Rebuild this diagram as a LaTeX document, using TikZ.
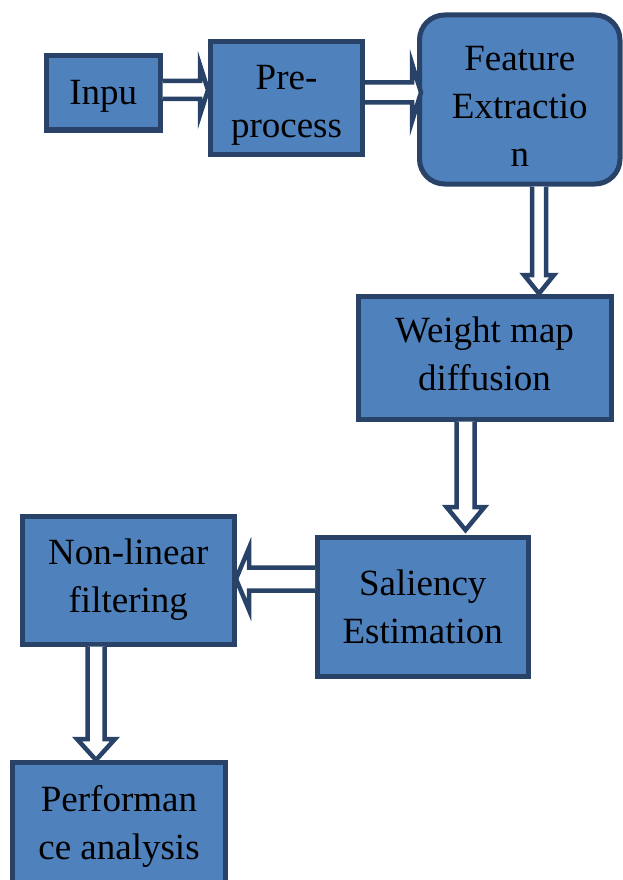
\documentclass[tikz,border=0pt]{standalone}
\usepackage{fontspec}
\setmainfont{Liberation Serif}
\usetikzlibrary{calc}
\definecolor{boxfill}{HTML}{4F81BD}
\definecolor{boxline}{HTML}{284268}
\tikzset{
  stagebox/.style={draw=boxline, fill=boxfill, line width=5pt, inner sep=0pt},
  stagetext/.style={align=center, inner sep=0pt, font=\fontsize{37}{48}\selectfont},
  blockarr/.style={draw=boxline, fill=white, line width=4.5pt, line join=miter}
}
\begin{document}
\begin{tikzpicture}[x=1pt,y=1pt]
  \useasboundingbox (0,0) rectangle (623,-880);
  \clip (0,0) rectangle (623,-880);

  % processing stages (box, with its caption set slightly off centre)
  \node[stagebox, minimum width=113.5pt, minimum height=74pt,
    label={[stagetext, yshift=-3pt]center:Inpu}] (inp) at (103.25,-93) {};
  \node[stagebox, minimum width=152pt, minimum height=112pt,
    label={[stagetext, yshift=-7pt]center:Pre-\\process}] (pre) at (286.5,-98) {};
  \node[stagebox, rounded corners=25pt, minimum width=200.5pt, minimum height=169pt,
    label={[stagetext, yshift=-7pt]center:Feature\\Extractio\\n}] (fea) at (519.75,-99.5) {};
  \node[stagebox, minimum width=253pt, minimum height=123pt,
    label={[stagetext, yshift=4pt]center:Weight map\\diffusion}] (wmd) at (484.5,-357.5) {};
  \node[stagebox, minimum width=210.5pt, minimum height=138.5pt,
    label={[stagetext]center:Saliency\\Estimation}] (sal) at (422.75,-606.75) {};
  \node[stagebox, minimum width=212.5pt, minimum height=128pt,
    label={[stagetext]center:Non-linear\\filtering}] (nlf) at (128.25,-580) {};
  \node[stagebox, minimum width=213pt, minimum height=132.5pt,
    label={[stagetext, yshift=2pt]center:Performan\\ce analysis}] (per) at (119,-828.75) {};

  % hollow block arrows between the stages
  \filldraw[blockarr] (inp.east |- 0,-81) -- ($(pre.west |- 0,-81)+(-8,0)$)
    -- ($(pre.west |- 0,-65)+(-8,0)$) -- (pre.west |- 0,-90)
    -- ($(pre.west |- 0,-115)+(-8,0)$) -- ($(pre.west |- 0,-99)+(-8,0)$)
    -- (inp.east |- 0,-99);

  \filldraw[blockarr] (pre.east |- 0,-82.5) -- ($(fea.west |- 0,-82.5)+(-5,0)$)
    -- ($(fea.west |- 0,-63.5)+(-5,0)$) -- ($(fea.west |- 0,-92.5)+(4,0)$)
    -- ($(fea.west |- 0,-121.5)+(-5,0)$) -- ($(fea.west |- 0,-102.5)+(-5,0)$)
    -- (pre.east |- 0,-102.5);

  \filldraw[blockarr] (fea.south -| 532,0) -- ($(wmd.north -| 532,0)+(0,18.5)$)
    -- ($(wmd.north -| 524,0)+(0,18.5)$) -- (wmd.north -| 539,0)
    -- ($(wmd.north -| 554,0)+(0,18.5)$) -- ($(wmd.north -| 546,0)+(0,18.5)$)
    -- (fea.south -| 546,0);

  \filldraw[blockarr] (wmd.south -| 456.5,0) -- ($(sal.north -| 456.5,0)+(0,28)$)
    -- ($(sal.north -| 446.5,0)+(0,28)$) -- ($(sal.north -| 465.5,0)+(0,5)$)
    -- ($(sal.north -| 484.5,0)+(0,28)$) -- ($(sal.north -| 474.5,0)+(0,28)$)
    -- (wmd.south -| 474.5,0);

  \filldraw[blockarr] (sal.west |- 0,-567.5) -- ($(nlf.east |- 0,-567.5)+(12,0)$)
    -- ($(nlf.east |- 0,-548)+(12,0)$) -- ($(nlf.east |- 0,-579)+(-1,0)$)
    -- ($(nlf.east |- 0,-610)+(12,0)$) -- ($(nlf.east |- 0,-590.5)+(12,0)$)
    -- (sal.west |- 0,-590.5);

  \filldraw[blockarr] (nlf.south -| 87.5,0) -- ($(per.north -| 87.5,0)+(0,21)$)
    -- ($(per.north -| 77,0)+(0,21)$) -- (per.north -| 96,0)
    -- ($(per.north -| 115,0)+(0,21)$) -- ($(per.north -| 104.5,0)+(0,21)$)
    -- (nlf.south -| 104.5,0);
\end{tikzpicture}
\end{document}
